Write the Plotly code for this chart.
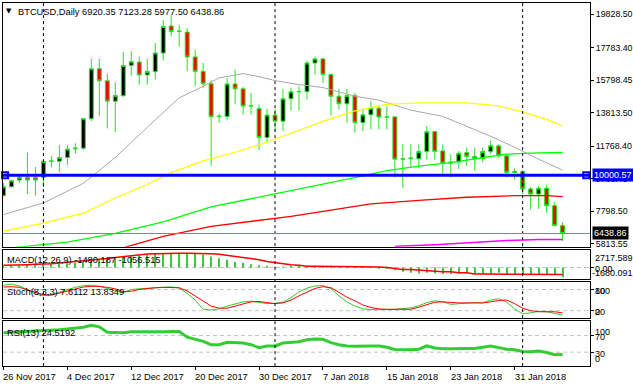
import plotly.graph_objects as go

# ---------------- data (daily BTCUSD, 26 Nov 2017 .. 6 Feb 2018) ----------------
opens = [8750, 9290, 9700, 9870, 9860, 9870, 10840, 10850, 11080, 11600,
         11650, 13450, 16500, 15760, 14520, 14850, 16690, 16910, 16120, 16320,
         17460, 19110, 18780, 18740, 17220, 16340, 15580, 13570, 13580, 15570,
         15270, 14220, 14060, 12300, 13670, 13300, 14670, 15090, 15100, 16850,
         17100, 16140, 14820, 14360, 14860, 13210, 13690, 14090, 13550, 13560,
         10980, 11000, 11000, 11440, 12660, 11480, 10730, 10800, 11380, 11150,
         11020, 11440, 11790, 11180, 10170, 10230, 9160, 8850, 9200, 8140,
         6920.35]
highs = [9520, 9740, 10000, 11380, 10500, 10980, 11180, 11830, 11830, 11950,
         13500, 17100, 17100, 16200, 15670, 17520, 17560, 17250, 17100, 18070,
         19480, 19800, 19180, 18980, 17660, 16850, 15800, 13750, 15940, 16440,
         15390, 15030, 14300, 14060, 14050, 15270, 15330, 15430, 17000, 17250,
         17150, 16200, 15270, 15270, 15030, 14060, 14520, 14260, 14210, 13580,
         11890, 11890, 11890, 13000, 12700, 11890, 11280, 11480, 11690, 11690,
         11690, 12130, 11890, 11280, 10410, 10270, 9300, 9340, 9400, 8350,
         7123.28]
lows = [8700, 9250, 9520, 8850, 8750, 9260, 10470, 10170, 10610, 11320,
        11550, 13300, 13600, 12860, 12640, 14800, 16080, 15530, 15520, 15840,
        17000, 18470, 17860, 16340, 15430, 15330, 10570, 13200, 13400, 14320,
        13710, 13710, 11540, 12000, 12700, 12700, 13950, 13950, 14620, 16140,
        15640, 13650, 14010, 13210, 12600, 12700, 12800, 12800, 12800, 9870,
        9200, 10470, 10470, 10980, 10940, 9960, 9870, 10370, 10570, 10270,
        10780, 11280, 11040, 9870, 9720, 8850, 7900, 7940, 7700, 6900,
        5977.50]
closes = [9290, 9660, 9870, 9700, 9700, 10840, 10870, 11080, 11590, 11650,
          13450, 16500, 15760, 14520, 14860, 16690, 16930, 16120, 16330, 17460,
          19080, 18770, 18800, 17220, 16340, 15580, 13570, 13600, 15570, 15270,
          14220, 14240, 12300, 13670, 13300, 14670, 15090, 15110, 16850, 17100,
          16140, 14820, 14360, 14860, 13210, 13690, 14090, 13550, 13560, 10980,
          11000, 11050, 11440, 12660, 11440, 10730, 10800, 11340, 11140, 11000,
          11440, 11790, 11180, 10170, 10230, 9160, 8850, 9200, 8140, 6920.35,
          6438.86]
bars = list(range(len(closes)))

tick_idx = [0, 8, 16, 24, 32, 40, 48, 56, 64]
tick_labels = ["26 Nov 2017", "4 Dec 2017", "12 Dec 2017", "20 Dec 2017", "30 Dec 2017",
               "7 Jan 2018", "15 Jan 2018", "23 Jan 2018", "31 Jan 2018"]
month_sep_idx = [5, 34, 65]          # 1 Dec, 1 Jan, 1 Feb

price_ticks = [19828.50, 17783.40, 15798.45, 13813.50, 11768.40, 9783.45, 7798.50, 5813.55]
hline_level = 10000.57

# moving averages (read at selected bars)
ma_gray_idx = [0, 5, 10, 14, 18, 22, 25, 27, 30, 32, 34, 37, 40, 44, 47, 51, 55, 58, 61, 64, 67, 70]
ma_gray = [7593, 8304, 9501, 11080, 12921, 14725, 15430, 15940, 16202, 16019, 15776,
           15533, 15351, 14822, 14579, 13972, 13590, 13000, 12374, 11706, 10977, 10309]
ma_yellow_idx = [0, 5, 10, 14, 18, 21, 25, 29, 32, 35, 40, 44, 48, 52, 58, 62, 65, 68, 70]
ma_yellow = [6585, 7071, 7678, 8608, 9428, 10157, 10874, 11402, 11858, 12374, 13286,
             13924, 14318, 14421, 14421, 14227, 13862, 13407, 13000]
ma_green_idx = [0, 8, 14, 20, 26, 32, 36, 40, 44, 48, 52, 56, 60, 63, 66, 70]
ma_green = [5510, 5917, 6451, 7150, 8061, 8669, 9094, 9459, 9853, 10278, 10552,
            10764, 11068, 11281, 11342, 11384]
ma_red_idx = [15, 20, 26, 32, 36, 40, 46, 52, 58, 64, 68, 70]
ma_red = [5570, 6269, 6876, 7241, 7484, 7788, 8243, 8456, 8651, 8748, 8748, 8687]
ma_mag_idx = [49, 50, 54, 58, 60, 63, 67, 70]
ma_mag = [5640, 5673, 5752, 5880, 5905, 6013, 6075, 6075]

# MACD(12,26,9)
macd_hist = [345, 345, 345, 394, 444, 493, 542, 592, 641, 740,
             838, 986, 1134, 1282, 1430, 1578, 1726, 1873, 1972, 2071,
             2169, 2219, 2219, 2219, 2071, 1972, 1676, 1430, 1183, 887,
             740, 493, 345, 247, 99, 100, 150, 200, 220, 220,
             200, 150, 120, 100, 80, 50, 20, -30, -150, -395,
             -640, -790, -890, -790, -890, -990, -990, -890, -890, -990,
             -990, -990, -790, -990, -990, -990, -990, -1130, -1130, -1130,
             -1480.187]
macd_signal = [345, 345, 345, 444, 493, 493, 592, 690, 789, 887,
               986, 1085, 1233, 1380, 1528, 1676, 1824, 1972, 2071, 2120,
               2169, 2169, 2169, 2169, 2169, 2169, 2120, 2021, 1873, 1726,
               1578, 1380, 1183, 937, 740, 592, 444, 345, 197, 197,
               197, 197, 197, 197, 197, 197, 197, 99, 0, -148,
               -296, -296, -394, -493, -493, -641, -641, -789, -789, -986,
               -986, -986, -986, -986, -986, -986, -986, -1000, -1040, -1050,
               -1056.515]
macd_range = [-1680.091, 2717.589]

# Stochastic(8,3,3)
stoch_k = [92, 95, 90, 80, 67, 62, 66, 73, 80, 86,
           91, 92, 89, 84, 77, 71, 80, 82, 83, 85,
           86, 87.5, 84, 69, 50, 24, 22, 25, 33, 40,
           45, 47, 44, 40, 41, 44, 57, 73, 84, 90,
           91, 82, 62, 45, 33, 25, 23, 22, 23, 24,
           25, 28, 34, 43, 48, 45, 38, 40, 42, 43,
           42, 50, 54, 44, 25, 11, 14, 18, 17, 12.5,
           7.6112]
stoch_d = [87, 88, 86, 79, 72, 65, 64, 70, 76, 82,
           87, 89, 89, 86, 82, 74, 75, 80, 83, 85,
           86, 86, 85, 76, 62, 48, 33, 27, 27, 33,
           40, 45, 46, 43, 40, 42, 50, 62, 73, 83,
           88, 85, 72, 58, 48, 36, 29, 25, 24, 24,
           24, 24, 30, 37, 44, 45, 43, 42, 42, 42,
           42, 45, 49, 50, 40, 27, 20, 17, 17, 17,
           13.8349]
stoch_levels = [20, 80]

# RSI(13)
rsi = [77, 78, 79, 80, 81, 81, 82, 84, 86, 88,
       90, 95, 91, 78, 77, 77, 79, 79, 78, 78,
       79, 80, 80, 66, 61, 56, 48, 48, 54, 53,
       52, 48, 41, 45, 45, 52, 53, 55, 60, 62,
       61, 53, 48, 45, 44, 45, 45, 45, 42, 36.5,
       35.6, 35.6, 37, 45, 40, 38, 38, 39, 39, 39,
       42, 45, 41, 37, 36, 31.6, 30.8, 33, 29, 24,
       24.5192]
rsi_levels = [30, 70]

# ---------------- layout helpers ----------------
W, H = 633, 389
def py(p):
    return 1 - p / H
def px(p):
    return p / W

X_DOMAIN = [px(3), px(591)]
X_RANGE = [-0.06, 73.44]
PANELS = {1: (3, 248), 2: (251, 280), 3: (283, 320), 4: (323, 368)}
Y_RANGES = {1: [5631, 20515], 2: macd_range, 3: [-1.7, 102.5], 4: [-3.6, 104.3]}
CANDLE_GREEN = '#1EE61E'
FONT = 'Liberation Sans, Arial, sans-serif'
HANDLE_X = [0.2, 72.96]
TXT_DY = 1.5   # visual centring of annotation text

fig = go.Figure()

fig.add_trace(go.Candlestick(
    x=bars, open=opens, high=highs, low=lows, close=closes,
    increasing=dict(fillcolor='black', line=dict(color=CANDLE_GREEN, width=1)),
    decreasing=dict(fillcolor='#FF0000', line=dict(color=CANDLE_GREEN, width=1)),
    whiskerwidth=0, xaxis='x', yaxis='y', hoverinfo='skip', showlegend=False))

for idx, vals, col, w in [(ma_gray_idx, ma_gray, '#A8A8A8', 1),
                          (ma_yellow_idx, ma_yellow, '#FFFF00', 1.2),
                          (ma_green_idx, ma_green, '#00FF00', 1.3),
                          (ma_red_idx, ma_red, '#FF0000', 1.3),
                          (ma_mag_idx, ma_mag, '#FF00FF', 1.5)]:
    fig.add_trace(go.Scatter(x=idx, y=vals, mode='lines', line=dict(color=col, width=w),
                             xaxis='x', yaxis='y', hoverinfo='skip', showlegend=False))

fig.add_trace(go.Scatter(x=HANDLE_X, y=[hline_level, hline_level], mode='markers',
                         marker=dict(symbol='square', size=6, color='white',
                                     line=dict(color='#0000FF', width=2)),
                         cliponaxis=False, xaxis='x', yaxis='y', hoverinfo='skip', showlegend=False))

fig.add_trace(go.Bar(x=bars, y=macd_hist, width=0.14,
                     marker=dict(color='#3CC83C', line=dict(width=0)),
                     xaxis='x2', yaxis='y2', hoverinfo='skip', showlegend=False))
fig.add_trace(go.Scatter(x=bars, y=macd_signal, mode='lines', line=dict(color='#FF0000', width=1.5),
                         xaxis='x2', yaxis='y2', hoverinfo='skip', showlegend=False))

fig.add_trace(go.Scatter(x=bars, y=stoch_k, mode='lines', line=dict(color='#2ECC2E', width=1),
                         xaxis='x3', yaxis='y3', hoverinfo='skip', showlegend=False))
fig.add_trace(go.Scatter(x=bars, y=stoch_d, mode='lines', line=dict(color='#FF0000', width=1),
                         xaxis='x3', yaxis='y3', hoverinfo='skip', showlegend=False))

fig.add_trace(go.Scatter(x=bars, y=rsi, mode='lines', line=dict(color='#32CD32', width=3),
                         xaxis='x4', yaxis='y4', hoverinfo='skip', showlegend=False))

layout = dict(width=W, height=H, margin=dict(l=0, r=0, t=0, b=0),
              paper_bgcolor='white', plot_bgcolor='white', showlegend=False,
              font=dict(family=FONT, size=9, color='black'), hovermode=False)

for k in range(1, 5):
    xs = '' if k == 1 else str(k)
    top, bot = PANELS[k]
    layout['xaxis' + xs] = dict(domain=X_DOMAIN, range=X_RANGE, anchor='y' + xs,
                                showgrid=False, zeroline=False, showline=True, mirror=True,
                                linecolor='black', linewidth=1, showticklabels=False,
                                ticks='', fixedrange=True)
    layout['yaxis' + xs] = dict(domain=[py(bot), py(top)], range=Y_RANGES[k], anchor='x' + xs,
                                side='right', showgrid=False, zeroline=False, showline=True,
                                mirror=True, linecolor='black', linewidth=1,
                                showticklabels=False, ticks='', fixedrange=True)

layout['xaxis']['rangeslider'] = dict(visible=False)
layout['xaxis4'].update(tickvals=tick_idx, ticks='outside', ticklen=3, tickcolor='black')
layout['yaxis'].update(tickvals=price_ticks, ticktext=[f'{v:.2f}' for v in price_ticks],
                       showticklabels=True, ticks='outside', ticklen=3, tickcolor='black',
                       tickfont=dict(family=FONT, size=8.8, color='black'))
layout['yaxis2'].update(tickvals=[0], ticks='outside', ticklen=3, tickcolor='black')
layout['yaxis3'].update(tickvals=stoch_levels, ticks='outside', ticklen=3, tickcolor='black')
layout['yaxis4'].update(tickvals=rsi_levels, ticks='outside', ticklen=3, tickcolor='black')

shapes = []
for idx in month_sep_idx:
    shapes.append(dict(type='line', xref='x', yref='paper', x0=idx, x1=idx,
                       y0=py(PANELS[4][1]), y1=py(PANELS[1][0]),
                       line=dict(color='black', width=1, dash='3px,3px'), layer='above'))
shapes.append(dict(type='line', xref='paper', yref='y', x0=X_DOMAIN[0], x1=X_DOMAIN[1],
                   y0=closes[-1], y1=closes[-1], line=dict(color='#778899', width=1)))
shapes.append(dict(type='line', xref='paper', yref='y', x0=X_DOMAIN[0], x1=X_DOMAIN[1],
                   y0=hline_level, y1=hline_level, line=dict(color='#0000FF', width=3)))
for yref, lv in [('y2', 0)] + [('y3', v) for v in stoch_levels] + [('y4', v) for v in rsi_levels]:
    shapes.append(dict(type='line', xref='paper', yref=yref, x0=X_DOMAIN[0], x1=X_DOMAIN[1],
                       y0=lv, y1=lv, line=dict(color='#C0C0C0', width=1, dash='4px,3px'),
                       layer='below'))
layout['shapes'] = shapes

TF = dict(family=FONT, size=9.3, color='black')
AF = dict(family=FONT, size=9, color='black')
ann = []
ann.append(dict(xref='paper', yref='paper', x=px(4.5), y=py(11), xanchor='left', yanchor='middle',
                text='▼', showarrow=False, font=dict(family='DejaVu Sans', size=7, color='black')))
ann.append(dict(xref='paper', yref='paper', x=px(16), y=py(11 + TXT_DY), xanchor='left', yanchor='middle',
                text=f'BTCUSD,Daily {opens[-1]:.2f} {highs[-1]:.2f} {lows[-1]:.2f} {closes[-1]:.2f}',
                showarrow=False, font=TF))
ann.append(dict(xref='paper', yref='paper', x=px(5.5), y=py(259.5 + TXT_DY), xanchor='left',
                yanchor='middle', text=f'MACD(12,26,9) {macd_hist[-1]:.3f} {macd_signal[-1]:.3f}',
                showarrow=False, font=TF))
ann.append(dict(xref='paper', yref='paper', x=px(5.5), y=py(292 + TXT_DY), xanchor='left',
                yanchor='middle', text=f'Stoch(8,3,3) {stoch_k[-1]:.4f} {stoch_d[-1]:.4f}',
                showarrow=False, font=TF))
ann.append(dict(xref='paper', yref='paper', x=px(5.5), y=py(333 + TXT_DY), xanchor='left',
                yanchor='middle', text=f'RSI(13) {rsi[-1]:.4f}', showarrow=False, font=TF))

# date labels, left-aligned at their tick like the terminal does
for i, lab in zip(tick_idx, tick_labels):
    ann.append(dict(xref='x4', yref='paper', x=i, y=py(377 + TXT_DY), xanchor='left',
                    yanchor='middle', xshift=-2, text=lab, showarrow=False, font=TF))

# right-hand indicator scale labels
LX = px(594)
def scale_label(yref, val, text, anchor, x=LX):
    ann.append(dict(xref='paper', yref=yref, x=x, y=val, xanchor='left', yanchor=anchor,
                    yshift=-TXT_DY, text=text, showarrow=False, font=AF))
scale_label('y2', macd_range[1], f'{macd_range[1]:.3f}', 'top')
scale_label('y2', 0, '0.00', 'middle')
scale_label('y2', macd_range[0], f'{macd_range[0]:.3f}', 'bottom', x=px(591))
scale_label('y3', 100, '100', 'top')
scale_label('y3', 80, '80', 'middle')
scale_label('y3', 20, '20', 'middle')
scale_label('y3', 0, '0', 'bottom')
scale_label('y4', 100, '100', 'top')
scale_label('y4', 70, '70', 'middle')
scale_label('y4', 30, '30', 'middle')
scale_label('y4', 0, '0', 'bottom')

# price tags on the right axis
ann.append(dict(xref='paper', yref='y', x=px(593), y=hline_level, xanchor='left', yanchor='middle',
                text=f'{hline_level:.2f}', showarrow=False, bgcolor='#0000FF', borderpad=1,
                font=dict(family=FONT, size=9, color='white')))
ann.append(dict(xref='paper', yref='y', x=px(593), y=closes[-1], xanchor='left', yanchor='middle',
                text=f'{closes[-1]:.2f}', showarrow=False, bgcolor='black', borderpad=1,
                font=dict(family=FONT, size=9, color='white')))
layout['annotations'] = ann

fig.update_layout(**layout)
fig.write_html('out.html', config={'displayModeBar': False},
               post_script="document.body.style.margin='0';document.body.style.overflow='hidden';")
